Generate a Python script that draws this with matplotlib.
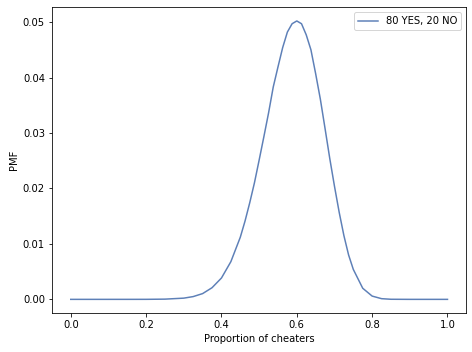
import matplotlib
matplotlib.use("Agg")
import matplotlib.pyplot as plt

# values
proportion = [0.0, 0.05, 0.1, 0.15, 0.2, 0.25, 0.3, 0.325, 0.35, 0.375, 0.4,
              0.425, 0.45, 0.4625, 0.475, 0.4875, 0.5, 0.5125, 0.525, 0.5375,
              0.55, 0.5625, 0.575, 0.5875, 0.6, 0.6125, 0.625, 0.6375, 0.65,
              0.6625, 0.675, 0.6875, 0.7, 0.7125, 0.725, 0.7375, 0.75, 0.775,
              0.8, 0.825, 0.85, 0.9, 0.95, 1.0]
pmf = [0.0, 0.0, 0.0, 0.0000005, 0.000005, 0.00004, 0.00022, 0.0005, 0.00104,
       0.0021, 0.00385, 0.0068, 0.0112, 0.0141, 0.0174, 0.0210, 0.0251, 0.0293,
       0.0336, 0.0383, 0.0419, 0.0454, 0.0482, 0.0497, 0.0502, 0.0497, 0.0477,
       0.0450, 0.0407, 0.0361, 0.0308, 0.0254, 0.0204, 0.0157, 0.0115, 0.0080,
       0.0054, 0.0020, 0.00059, 0.000124, 0.000017, 0.0, 0.0, 0.0]
label = "80 YES, 20 NO"

fig, ax = plt.subplots(figsize=(472 / 72, 352 / 72), dpi=72)
ax.plot(proportion, pmf, color="#4C72B0", alpha=0.9, linewidth=1.5, label=label)
ax.set_xlabel("Proportion of cheaters")
ax.set_ylabel("PMF")
ax.legend(loc="upper right")
fig.subplots_adjust(left=0.11, right=0.988, top=0.98, bottom=0.11)
fig.savefig("out.png", dpi=72)
